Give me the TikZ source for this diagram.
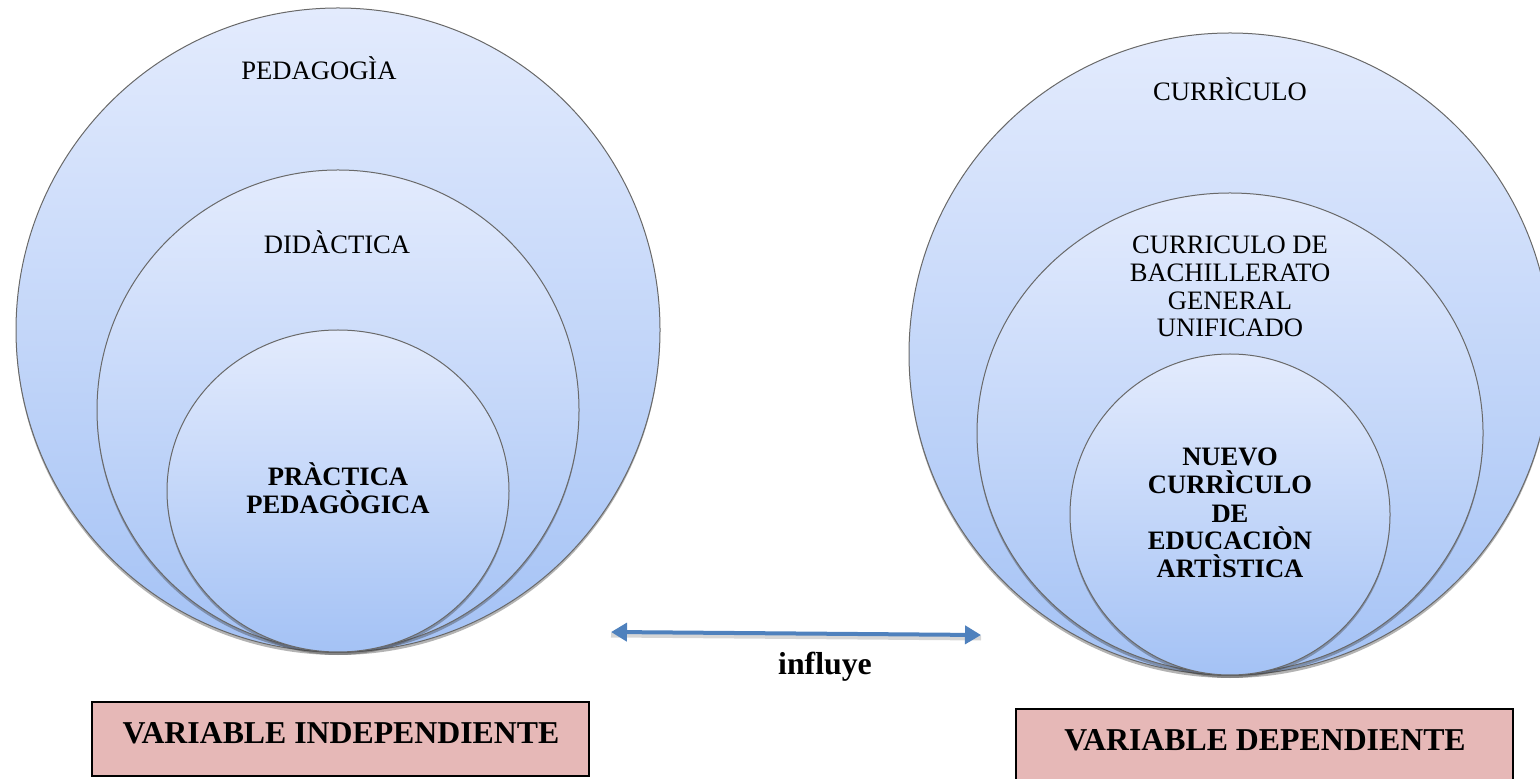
\documentclass[tikz,border=0pt]{standalone}
\usepackage{fontspec}
\setmainfont{Liberation Serif}
\usetikzlibrary{shapes.geometric,arrows.meta,shadows}
\definecolor{ctop}{RGB}{227,235,253}
\definecolor{cbot}{RGB}{164,194,245}
\definecolor{cline}{RGB}{105,105,105}
\definecolor{boxpink}{RGB}{230,184,183}
\definecolor{arrowblue}{RGB}{79,129,189}
\begin{document}
\begin{tikzpicture}[x=0.5pt,y=-0.5pt,
  ring/.style={ellipse, draw=cline, line width=0.5pt, top color=ctop, bottom color=cbot,
    inner sep=0pt, outer sep=0pt,
    drop shadow={shadow xshift=0pt, shadow yshift=-1.5pt, opacity=0.4, fill=black!75}},
  lbl/.style={anchor=base, align=center, inner sep=0pt, font=\fontsize{13.3}{13.9}\selectfont},
  blbl/.style={anchor=base, align=center, inner sep=0pt, font=\fontsize{13.3}{14}\selectfont\bfseries},
  varbox/.style={draw=black, line width=0.6pt, fill=boxpink, inner sep=0pt, outer sep=0pt},
  varlbl/.style={anchor=base, inner sep=0pt, font=\fontsize{15.9}{17}\selectfont\bfseries},
  link/.style={draw=arrowblue, line width=2pt,
    {Triangle[length=8pt,width=9pt]}-{Triangle[length=8pt,width=9pt]}},
  linkshadow/.style={draw=black!40, opacity=0.4, line width=2.5pt, transform canvas={yshift=-1.5pt}}
]
\useasboundingbox (0,0) rectangle (1540,779);

% left set of circles
\node[ring, minimum width=322pt, minimum height=322pt] (lbig) at (338,330) {};
\node[ring, minimum width=241pt, minimum height=240pt] (lmid) at (338,410) {};
\node[ring, minimum width=171pt, minimum height=161pt] (linn) at (338,491) {};

% right set of circles
\node[ring, minimum width=321pt, minimum height=321pt] (rbig) at (1230,354) {};
\node[ring, minimum width=253pt, minimum height=240pt] (rmid) at (1230,433) {};
\node[ring, minimum width=160pt, minimum height=160.5pt] (rinn) at (1230,514.5) {};

% texts in circles (multi-line nodes: base = baseline of last line)
\node[lbl] (tped) at (319,80) {PEDAGOGÌA};
\node[lbl] (tdid) at (337,254) {DIDÀCTICA};
\node[blbl] (tprac) at (338,514) {PRÀCTICA\\PEDAGÒGICA};
\node[lbl] (tcur) at (1230,101) {CURRÌCULO};
\node[lbl] (tbach) at (1230,337) {CURRICULO DE\\BACHILLERATO\\GENERAL\\UNIFICADO};
\node[blbl] (tnuevo) at (1230,578) {NUEVO\\CURRÌCULO\\DE\\EDUCACIÒN\\ARTÌSTICA};

% double arrow
\coordinate (al) at (611,632);
\coordinate (ar) at (981,635);
\draw[linkshadow] (al) -- (ar);
\draw[link] (al) -- (ar);
\node[varlbl] (tinf) at (825,674) {influye};

% variable boxes
\node[varbox, minimum width=248.5pt, minimum height=37pt] (vi) at (340.5,739) {};
\node[varlbl] (tvi) at (341,743) {VARIABLE INDEPENDIENTE};
\node[varbox, minimum width=248.5pt, minimum height=40.5pt] (vd) at (1264.5,749.5) {};
\node[varlbl] (tvd) at (1265,750) {VARIABLE DEPENDIENTE};
\end{tikzpicture}
\end{document}
